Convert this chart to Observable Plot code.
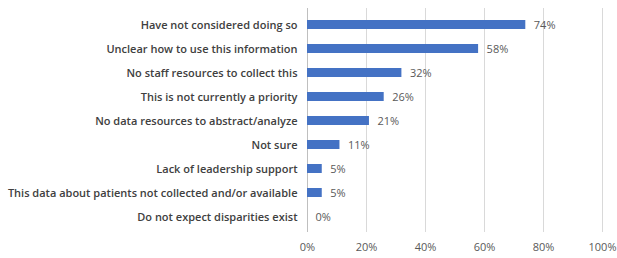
<!DOCTYPE html>
<html><head>
<meta charset="utf-8">
<script src="https://cdn.jsdelivr.net/npm/d3@7"></script>
<script src="https://cdn.jsdelivr.net/npm/@observablehq/plot@0.6"></script>
<style>body{margin:0;background:#fff}</style>
</head><body><div id="chart"></div>
<script>
const categories = [
  "Have not considered doing so",
  "Unclear how to use this information",
  "No staff resources to collect this",
  "This is not currently a priority",
  "No data resources to abstract/analyze",
  "Not sure",
  "Lack of leadership support",
  "This data about patients not collected and/or available",
  "Do not expect disparities exist"
];
const values = [74, 58, 32, 26, 21, 11, 5, 5, 0];
const xTicks = [0, 20, 40, 60, 80, 100];
const data = categories.map((c, i) => ({category: c, value: values[i]}));
const chart = Plot.plot({
  width: 617, height: 258,
  marginLeft: 307, marginRight: 15, marginTop: 8, marginBottom: 26,
  style: {fontFamily: "Open Sans", fontSize: "11px", color: "#595959", background: "#fff"},
  x: {domain: [0, 100], label: null},
  y: {domain: categories, label: null, paddingInner: 0.64, paddingOuter: 0.32},
  marks: [
    Plot.gridX(xTicks.slice(1), {stroke: "#d9d9d9", strokeOpacity: 1}),
    Plot.ruleX([0], {stroke: "#bfbfbf"}),
    Plot.barX(data, {y: "category", x: "value", fill: "#4472C4"}),
    Plot.text(data, {y: "category", x: "value", text: d => d.value + "%", textAnchor: "start", dx: 8, fill: "#595959", fontSize: 11}),
    Plot.axisY({tickSize: 0, tickPadding: 10, fontWeight: 600, fill: "#404040", label: null}),
    Plot.axisX(xTicks, {tickSize: 0, tickPadding: 11, tickFormat: d => d + "%", fill: "#595959", label: null})
  ]
});
document.getElementById("chart").append(chart);
</script>
</body></html>
